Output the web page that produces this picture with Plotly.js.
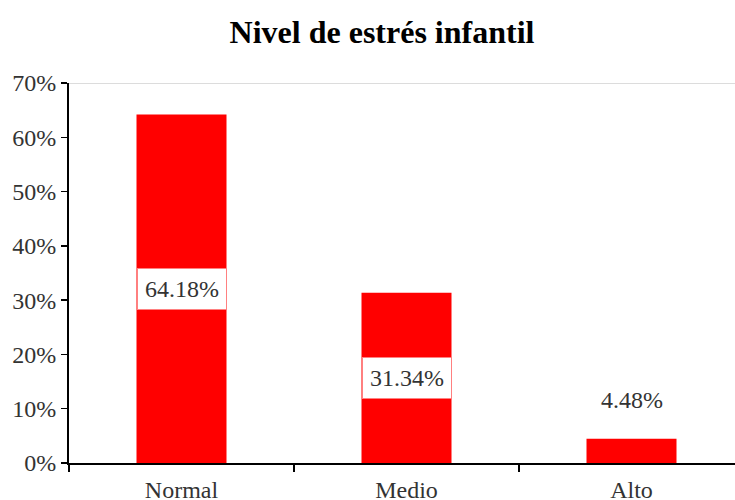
<!DOCTYPE html>
<html>
<head>
<meta charset="utf-8">
<script src="https://cdn.plot.ly/plotly-3.0.1.min.js"></script>
<style>html,body{margin:0;padding:0;background:#fff;}#chart{width:735px;height:500px;}</style>
</head>
<body>
<div id="chart"></div>
<script>
const categories = ["Normal", "Medio", "Alto"];
const values = [64.18, 31.34, 4.48];
const labels = ["64.18%", "31.34%", "4.48%"];
const yTickVals = [0, 10, 20, 30, 40, 50, 60, 70];
const yTickText = ["0%", "10%", "20%", "30%", "40%", "50%", "60%", "70%"];

const serif = "Liberation Serif, Times New Roman, serif";

const annotations = categories.map((c, i) => {
  const inside = values[i] > 15;
  return {
    x: c, y: inside ? values[i] / 2 : values[i],
    xref: "x", yref: "y",
    text: labels[i], showarrow: false,
    font: {family: serif, size: 24, color: "#333"},
    bgcolor: "#ffffff",
    bordercolor: inside ? "#ff8080" : "rgba(0,0,0,0)",
    borderwidth: 1,
    width: 86, height: 38,
    yanchor: "middle",
    yshift: inside ? 0 : 39
  };
});

Plotly.newPlot("chart", [{
  type: "bar",
  x: categories,
  y: values,
  width: 0.4,
  marker: {color: "#ff0000", line: {width: 0}},
  hoverinfo: "skip"
}], {
  width: 735, height: 500,
  margin: {l: 69, r: 0, t: 83, b: 37, pad: 0},
  paper_bgcolor: "#fff", plot_bgcolor: "#fff",
  showlegend: false,
  title: {text: "<b>Nivel de estrés infantil</b>", x: 0.47, xref: "paper", xanchor: "center", y: 0.936, yanchor: "middle",
          font: {family: serif, size: 32, color: "#000"}},
  xaxis: {
    type: "category", range: [-0.5, 2.46],
    showline: true, linecolor: "#000", linewidth: 2,
    ticks: "outside", ticklen: 7, tickwidth: 1.5, tickcolor: "#000",
    tickson: "boundaries",
    showgrid: false, zeroline: false,
    tickfont: {family: serif, size: 24, color: "#333"},
    ticklabelstandoff: 4,
    fixedrange: true
  },
  yaxis: {
    range: [0, 70],
    tickvals: yTickVals, ticktext: yTickText,
    showline: true, linecolor: "#000", linewidth: 2,
    ticks: "outside", ticklen: 6, tickwidth: 1.5, tickcolor: "#000",
    showgrid: false, zeroline: false,
    tickfont: {family: serif, size: 24, color: "#333"},
    fixedrange: true
  },
  shapes: [{type: "line", xref: "paper", yref: "y", x0: 0, x1: 1, y0: 70, y1: 70,
            line: {color: "#dcdcdc", width: 2}, layer: "below"}],
  annotations: annotations
}, {displayModeBar: false, staticPlot: true});
</script>
</body>
</html>
